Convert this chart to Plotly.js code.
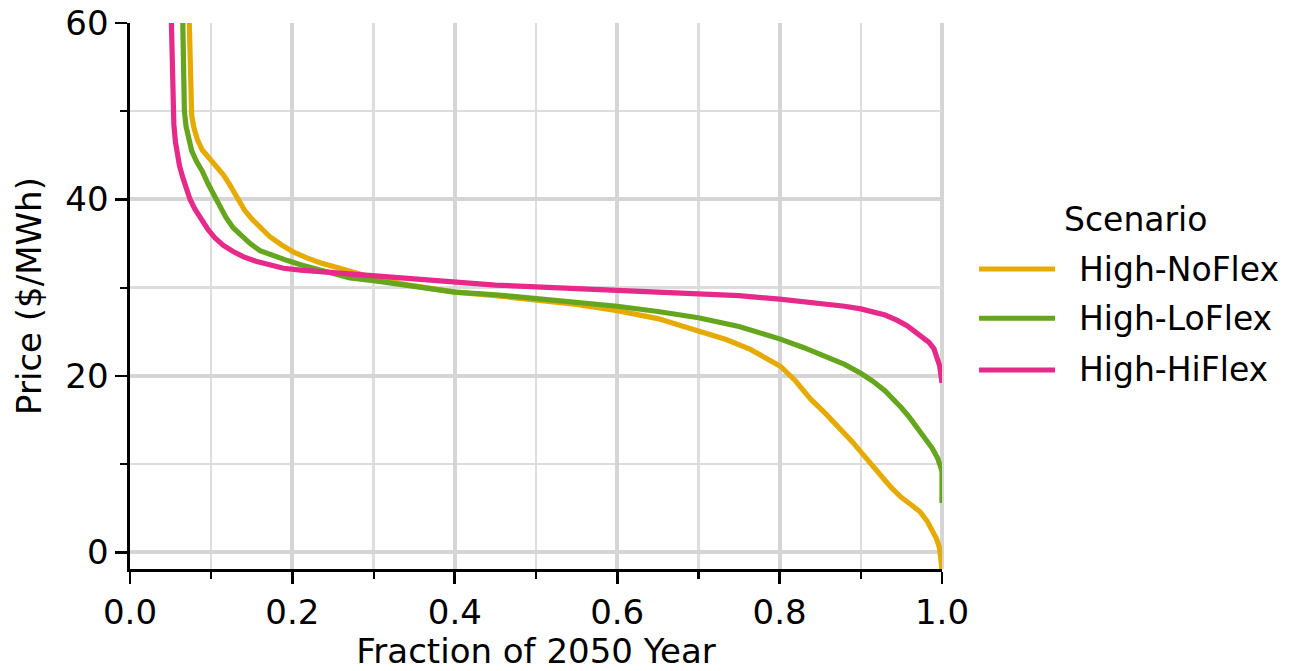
<!DOCTYPE html>
<html>
<head>
<meta charset="utf-8">
<script src="https://cdn.plot.ly/plotly-3.0.1.min.js"></script>
<style>
  html, body { margin: 0; padding: 0; background: #ffffff; }
  #chart { width: 1292px; height: 671px; }
</style>
</head>
<body>
<div id="chart"></div>
<script>
// Price duration curves for 2050 under three flexibility scenarios.
const scenarioNames = ["High-NoFlex", "High-LoFlex", "High-HiFlex"];
const scenarioColors = ["#E6AB02", "#66A61E", "#E7298A"];

// Fraction of the year at or above a given price, and that price ($/MWh)
const noFlexFraction = [0.073, 0.0745, 0.076, 0.079, 0.083, 0.089, 0.095, 0.101, 0.108, 0.115, 0.122, 0.128, 0.134, 0.141, 0.150, 0.160, 0.172, 0.186, 0.200, 0.217, 0.235, 0.255, 0.275, 0.300, 0.350, 0.400, 0.450, 0.493, 0.550, 0.600, 0.650, 0.700, 0.735, 0.764, 0.801, 0.820, 0.838, 0.857, 0.876, 0.890, 0.900, 0.912, 0.924, 0.937, 0.949, 0.962, 0.973, 0.982, 0.988, 0.993, 0.997, 1.000];
const noFlexPrice    = [60.0, 52.0, 49.5, 48.0, 46.8, 45.6, 45.0, 44.3, 43.6, 42.8, 41.8, 40.8, 39.8, 38.8, 37.8, 36.8, 35.8, 34.9, 34.1, 33.4, 32.8, 32.3, 31.8, 31.1, 30.2, 29.5, 29.1, 28.7, 28.1, 27.4, 26.5, 25.1, 24.1, 23.0, 21.1, 19.4, 17.4, 15.7, 13.9, 12.5, 11.4, 10.0, 8.8, 7.4, 6.3, 5.4, 4.6, 3.5, 2.6, 1.6, 0.5, -2.0];

const loFlexFraction = [0.065, 0.066, 0.067, 0.069, 0.072, 0.076, 0.082, 0.089, 0.096, 0.103, 0.110, 0.118, 0.127, 0.137, 0.148, 0.160, 0.176, 0.193, 0.210, 0.230, 0.250, 0.271, 0.300, 0.330, 0.370, 0.400, 0.450, 0.500, 0.550, 0.600, 0.650, 0.700, 0.750, 0.800, 0.830, 0.860, 0.880, 0.900, 0.915, 0.930, 0.940, 0.950, 0.960, 0.970, 0.980, 0.988, 0.995, 1.000, 1.000];
const loFlexPrice    = [60.0, 55.0, 50.0, 48.3, 46.8, 45.5, 44.3, 43.2, 41.8, 40.5, 39.3, 38.0, 36.8, 35.9, 35.0, 34.2, 33.6, 33.1, 32.6, 32.1, 31.6, 31.1, 30.8, 30.4, 29.9, 29.5, 29.2, 28.8, 28.3, 27.9, 27.3, 26.6, 25.6, 24.2, 23.2, 22.1, 21.3, 20.3, 19.4, 18.3, 17.4, 16.4, 15.3, 14.0, 12.8, 11.8, 10.6, 9.2, 5.6];

const hiFlexFraction = [0.051, 0.052, 0.053, 0.054, 0.056, 0.058, 0.061, 0.065, 0.069, 0.074, 0.080, 0.087, 0.096, 0.105, 0.115, 0.127, 0.140, 0.155, 0.170, 0.189, 0.210, 0.230, 0.271, 0.320, 0.360, 0.400, 0.450, 0.500, 0.550, 0.600, 0.650, 0.700, 0.750, 0.800, 0.850, 0.880, 0.900, 0.915, 0.930, 0.945, 0.957, 0.967, 0.976, 0.984, 0.990, 0.994, 0.997, 1.000];
const hiFlexPrice    = [60.0, 55.0, 51.0, 48.5, 46.5, 45.0, 43.8, 42.5, 41.2, 40.0, 38.9, 37.8, 36.6, 35.6, 34.8, 34.1, 33.5, 33.0, 32.6, 32.2, 32.0, 31.85, 31.6, 31.2, 30.9, 30.6, 30.3, 30.1, 29.9, 29.75, 29.6, 29.4, 29.1, 28.7, 28.25, 27.9, 27.6, 27.3, 26.9, 26.3, 25.7, 25.0, 24.4, 23.8, 23.1, 22.2, 21.2, 19.2];

const xTickValues = [0.0, 0.2, 0.4, 0.6, 0.8, 1.0];
const xTickLabels = ["0.0", "0.2", "0.4", "0.6", "0.8", "1.0"];
const xMinorValues = [0.1, 0.3, 0.5, 0.7, 0.9];
const yTickValues = [0, 20, 40, 60];
const yTickLabels = ["0", "20", "40", "60"];
const yMinorValues = [10, 30, 50];
const xRange = [0, 1];
const yRange = [-1.88, 60];

const seriesX = [noFlexFraction, loFlexFraction, hiFlexFraction];
const seriesY = [noFlexPrice, loFlexPrice, hiFlexPrice];

const FONT = "DejaVu Sans, Liberation Sans, sans-serif";
const MAJOR_GRID = "#d5d5d5";

const traces = scenarioNames.map((name, i) => ({
  type: "scatter",
  mode: "lines",
  name: name,
  x: seriesX[i],
  y: seriesY[i],
  line: { color: scenarioColors[i], width: 5.2, shape: "linear" },
  showlegend: false,
  hoverinfo: "skip"
}));

// Hand-drawn legend block to the right of the plot
const legendLineX0 = 1.0456, legendLineX1 = 1.1392, legendTextX = 1.1663;
const legendRowY = [0.5494, 0.4592, 0.3646];

const shapes = scenarioNames.map((name, i) => ({
  type: "line",
  xref: "paper", yref: "paper",
  x0: legendLineX0, x1: legendLineX1,
  y0: legendRowY[i], y1: legendRowY[i],
  line: { color: scenarioColors[i], width: 5 }
}));
// major grid line along the right edge of the plot area (x = 1.0)
shapes.push({
  type: "line", layer: "below",
  xref: "paper", yref: "paper",
  x0: 1, x1: 1, y0: 0, y1: 1,
  line: { color: MAJOR_GRID, width: 4 }
});

const annotations = scenarioNames.map((name, i) => ({
  xref: "paper", yref: "paper",
  x: legendTextX, y: legendRowY[i],
  xanchor: "left", yanchor: "middle",
  text: name, showarrow: false,
  font: { family: FONT, size: 33, color: "#000000" }
}));
annotations.push({
  xref: "paper", yref: "paper",
  x: 1.2377, y: 0.6409,
  xanchor: "center", yanchor: "middle",
  text: "Scenario", showarrow: false,
  font: { family: FONT, size: 33, color: "#000000" }
});

const axisCommon = {
  showline: true, linecolor: "#000000", linewidth: 2.6, mirror: false,
  ticks: "outside", ticklen: 12, tickwidth: 2.6, tickcolor: "#000000",
  showgrid: true, gridcolor: MAJOR_GRID, gridwidth: 4,
  zeroline: false, automargin: true,
  tickfont: { family: FONT, size: 34, color: "#000000" },
  fixedrange: true
};
const minorCommon = {
  tickmode: "array", ticks: "outside", ticklen: 7, tickwidth: 2.2, tickcolor: "#000000",
  showgrid: true, gridcolor: "#dddddd", gridwidth: 2.5
};

const layout = {
  width: 1292, height: 671,
  margin: { l: 130, r: 350, t: 23, b: 102, pad: 0, autoexpand: false },
  paper_bgcolor: "#ffffff", plot_bgcolor: "#ffffff",
  showlegend: false,
  font: { family: FONT, size: 34, color: "#000000" },
  xaxis: Object.assign({}, axisCommon, {
    range: xRange,
    tickmode: "array", tickvals: xTickValues, ticktext: xTickLabels,
    minor: Object.assign({}, minorCommon, { tickvals: xMinorValues }),
    title: { text: "Fraction of 2050 Year", font: { family: FONT, size: 34, color: "#000000" }, standoff: 14 }
  }),
  yaxis: Object.assign({}, axisCommon, {
    range: yRange,
    tickmode: "array", tickvals: yTickValues, ticktext: yTickLabels,
    minor: Object.assign({}, minorCommon, { tickvals: yMinorValues }),
    title: { text: "Price ($/MWh)", font: { family: FONT, size: 34, color: "#000000" }, standoff: 14 }
  }),
  shapes: shapes,
  annotations: annotations
};

Plotly.newPlot("chart", traces, layout, { staticPlot: true, displayModeBar: false });
</script>
</body>
</html>
